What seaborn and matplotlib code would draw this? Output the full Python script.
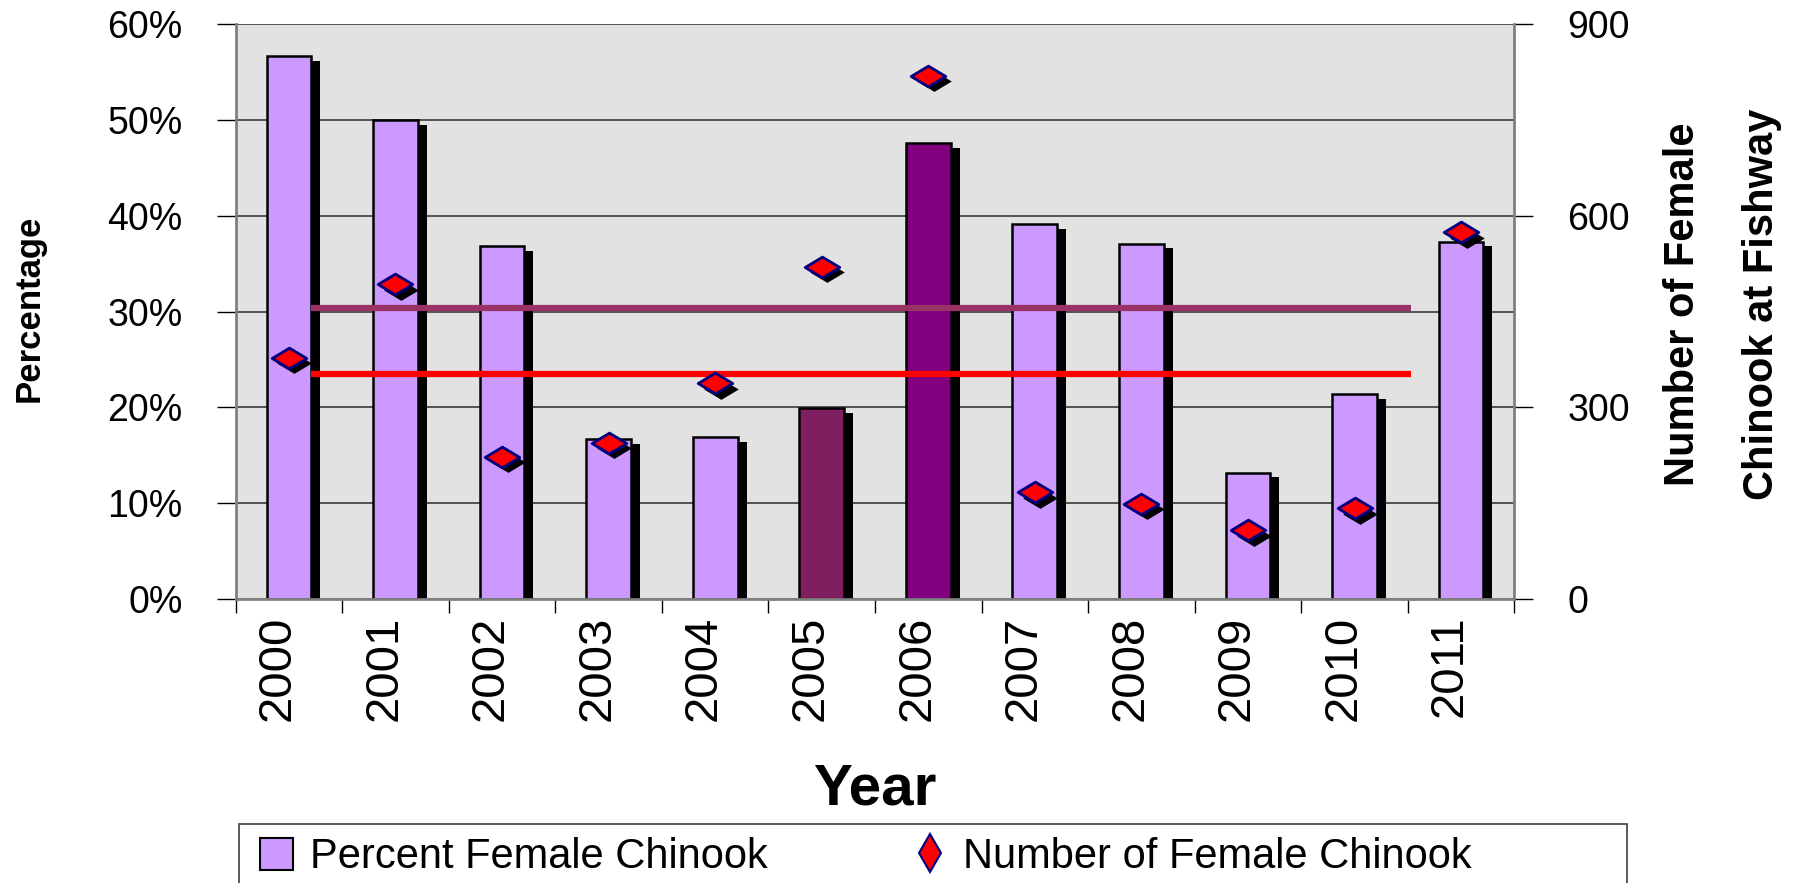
import numpy as np
import pandas as pd
import matplotlib
matplotlib.use("Agg")
import matplotlib.pyplot as plt
import seaborn as sns
from matplotlib.transforms import ScaledTranslation
from matplotlib.path import Path
from matplotlib.patches import Patch, Rectangle
from matplotlib.lines import Line2D

# ---- data ----
years = ["2000", "2001", "2002", "2003", "2004", "2005",
         "2006", "2007", "2008", "2009", "2010", "2011"]
percent_female = [56.7, 50.0, 36.8, 16.7, 16.9, 19.9, 47.6, 39.1, 37.1, 13.2, 21.4, 37.3]
number_female = [378, 493, 223, 245, 338, 520, 819, 167, 149, 108, 142, 574]
bar_colors = ["#CC99FF", "#CC99FF", "#CC99FF", "#CC99FF", "#CC99FF", "#7F1F5F",
              "#800080", "#CC99FF", "#CC99FF", "#CC99FF", "#CC99FF", "#CC99FF"]
avg_percent_level = 30.4
avg_number_level = 353
pct_ticks = [0, 10, 20, 30, 40, 50, 60]
pct_tick_labels = ["0%", "10%", "20%", "30%", "40%", "50%", "60%"]
num_ticks = [0, 300, 600, 900]
num_tick_labels = ["0", "300", "600", "900"]

sns.set_style("white")
plt.rcParams["font.family"] = ["Liberation Sans", "DejaVu Sans"]
plt.rcParams["text.color"] = "black"
plt.rcParams["xtick.color"] = "black"
plt.rcParams["ytick.color"] = "black"
plt.rcParams["axes.labelcolor"] = "black"

fig = plt.figure(figsize=(18.03, 8.83), dpi=100)
ax = fig.add_axes([0.1307, 0.3216, 0.7092, 0.6511])
ax.set_facecolor("#E2E2E2")

df = pd.DataFrame({"year": years, "pct": percent_female})
sns.barplot(data=df, x="year", y="pct", hue="year", palette=bar_colors,
            width=0.42, edgecolor="black", linewidth=1.8, legend=False,
            ax=ax, zorder=2, saturation=1)

pos = np.arange(len(years))
# drop shadows of bars
ax.bar(pos + 0.085, np.array(percent_female) - 0.5, width=0.42,
       color="black", linewidth=0, zorder=1.5)

ax.hlines(avg_percent_level, 0.21, 10.53, color="#993366", lw=4.5, zorder=3)

ax.set_xlim(-0.5, 11.5)
ax.set_ylim(0, 60)
ax.set_axisbelow(True)
ax.yaxis.grid(True, color="#3A3A3A", lw=1.2)
ax.xaxis.grid(False)

ax.set_yticks(pct_ticks, pct_tick_labels)
ax.tick_params(axis="y", left=True, length=14, width=1, pad=24,
               labelsize=27, color="black", labelcolor="black")
ax.set_xticks(pos, years, rotation=90)
ax.tick_params(axis="x", which="major", bottom=True, length=0, pad=12,
               labelsize=34, labelcolor="black")
ax.set_xticks(np.arange(-0.5, 12, 1), minor=True)
ax.tick_params(axis="x", which="minor", bottom=True, length=10, width=1, color="black")
label_shift = ScaledTranslation(-8 / 72, 0, fig.dpi_scale_trans)
for lbl in ax.get_xticklabels():
    lbl.set_transform(lbl.get_transform() + label_shift)
ax.set_xlabel("")
ax.set_ylabel("")

for s in ["left", "bottom"]:
    ax.spines[s].set_color("#808080")
    ax.spines[s].set_linewidth(2)
ax.spines["top"].set_visible(False)
ax.spines["right"].set_visible(False)

# secondary axis
ax2 = ax.twinx()
diamond = Path([(-1, 0), (0, 0.6), (1, 0), (0, -0.6), (-1, 0)],
               [Path.MOVETO, Path.LINETO, Path.LINETO, Path.LINETO, Path.CLOSEPOLY])
shadow_tr = ax2.transData + ScaledTranslation(4 / 72, -4 / 72, fig.dpi_scale_trans)
ax2.scatter(pos, number_female, marker=diamond, s=620, color="black",
            linewidths=0, transform=shadow_tr, zorder=3)
sns.scatterplot(x=pos, y=number_female, marker=diamond, s=620, color="red",
                edgecolor="#000080", linewidth=2, ax=ax2, zorder=4, legend=False)
ax2.hlines(avg_number_level, 0.21, 10.53, color="#FF0000", lw=4.5, zorder=2)
ax2.set_ylim(0, 900)
ax2.set_xlim(-0.5, 11.5)
ax2.set_yticks(num_ticks, num_tick_labels)
ax2.tick_params(axis="y", right=True, length=14, width=1, pad=24,
                labelsize=27, color="black", labelcolor="black")
ax2.grid(False)
for s in ["left", "bottom", "top"]:
    ax2.spines[s].set_visible(False)
ax2.spines["right"].set_color("#808080")
ax2.spines["right"].set_linewidth(2)
ax2.set_ylabel("")

# axis titles
fig.text(0.485, 0.0884, "Year", fontsize=42, fontweight="bold", ha="center",
         va="baseline", color="black")
fig.text(0.016, 0.651, "Percentage", fontsize=25, fontweight="bold",
         rotation=90, ha="center", va="center", color="black")
fig.text(0.9332, 0.655, "Number of Female", fontsize=30, fontweight="bold",
         rotation=90, ha="center", va="center", color="black")
fig.text(0.977, 0.655, "Chinook at Fishway", fontsize=30, fontweight="bold",
         rotation=90, ha="center", va="center", color="black")

# legend frame (extends past the bottom edge, as in the reference)
frame = Rectangle((0.1326, -0.05), 0.7698, 0.0663 + 0.05, transform=fig.transFigure,
                  facecolor="white", edgecolor="#404040", linewidth=1.2, zorder=1)
fig.add_artist(frame)

handles = [
    Patch(facecolor="#CC99FF", edgecolor="black", linewidth=1.5, label="Percent Female Chinook"),
    Line2D([], [], linestyle="none", marker="d", markersize=19, markerfacecolor="red",
           markeredgecolor="#000080", markeredgewidth=1.5, label="Number of Female Chinook"),
]
leg = fig.legend(handles=handles, loc="upper left",
                 bbox_to_anchor=(0.1326, 0.0753),
                 ncol=2, fontsize=30, frameon=False,
                 borderaxespad=0, handlelength=0.8, handleheight=0.8,
                 handletextpad=0.4, borderpad=0.5, columnspacing=3.5)
leg.set_zorder(2)
for t in leg.get_texts():
    t.set_color("black")

fig.savefig("out.png", dpi=100)
